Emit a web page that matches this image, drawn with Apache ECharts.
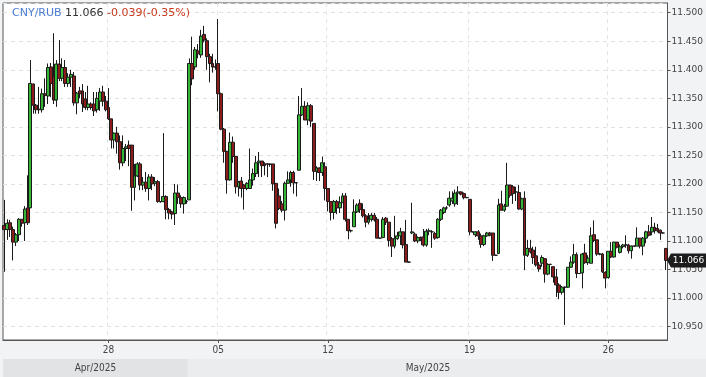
<!DOCTYPE html>
<html>
<head>
<meta charset="utf-8">
<script src="https://cdn.jsdelivr.net/npm/echarts@6/dist/echarts.min.js"></script>
<style>
html, body { margin: 0; padding: 0; background: #f2f3f5; }
#chart { width: 706px; height: 377px; }
</style>
</head>
<body>
<div id="chart"></div>
<script>
// [open, close, low, high] per bar
const candles = [
  [11.127,11.120,11.046,11.172],[11.120,11.131,11.102,11.138],[11.132,11.120,11.107,11.137],[11.120,11.098,11.066,11.125],
  [11.098,11.111,11.091,11.114],[11.111,11.138,11.100,11.140],[11.138,11.131,11.125,11.138],[11.132,11.156,11.100,11.161],
  [11.158,11.132,11.128,11.215],[11.158,11.376,11.158,11.417],[11.375,11.338,11.323,11.376],[11.338,11.330,11.323,11.340],
  [11.331,11.330,11.323,11.370],[11.330,11.358,11.325,11.367],[11.358,11.355,11.335,11.385],
  [11.354,11.404,11.340,11.411],[11.405,11.376,11.352,11.412],[11.388,11.347,11.340,11.464],[11.347,11.410,11.335,11.417],
  [11.410,11.385,11.380,11.452],[11.385,11.404,11.380,11.420],[11.404,11.376,11.370,11.417],[11.376,11.387,11.370,11.394],
  [11.387,11.392,11.370,11.400],[11.389,11.342,11.337,11.396],[11.342,11.359,11.322,11.361],[11.363,11.358,11.350,11.370],
  [11.363,11.340,11.326,11.375],[11.349,11.334,11.330,11.361],[11.334,11.340,11.329,11.372],[11.340,11.334,11.330,11.343],
  [11.340,11.328,11.319,11.361],[11.330,11.350,11.325,11.361],[11.345,11.361,11.328,11.368],[11.361,11.345,11.336,11.372],
  [11.345,11.330,11.327,11.354],[11.334,11.314,11.312,11.368],[11.314,11.277,11.262,11.314],[11.277,11.289,11.262,11.290],
  [11.289,11.274,11.253,11.300],[11.274,11.237,11.225,11.285],[11.237,11.262,11.231,11.285],[11.262,11.265,11.240,11.270],
  [11.268,11.262,11.231,11.276],[11.268,11.194,11.153,11.268],[11.194,11.214,11.171,11.235],[11.214,11.235,11.212,11.238],
  [11.235,11.198,11.189,11.238],[11.198,11.203,11.189,11.212],[11.203,11.192,11.186,11.221],[11.192,11.212,11.171,11.217],
  [11.212,11.200,11.189,11.217],[11.201,11.204,11.196,11.212],[11.204,11.169,11.167,11.207],[11.169,11.169,11.167,11.170],
  [11.169,11.178,11.168,11.289],[11.178,11.155,11.138,11.180],[11.155,11.149,11.138,11.158],[11.151,11.147,11.138,11.153],
  [11.148,11.184,11.128,11.200],[11.184,11.176,11.165,11.199],[11.176,11.165,11.158,11.180],[11.165,11.176,11.148,11.178],
  [11.169,11.169,11.165,11.172],[11.172,11.411,11.172,11.420],[11.411,11.384,11.373,11.458],
  [11.405,11.435,11.400,11.440],[11.433,11.428,11.420,11.445],[11.426,11.459,11.421,11.470],[11.462,11.452,11.448,11.477],
  [11.451,11.423,11.400,11.455],[11.423,11.411,11.378,11.428],[11.411,11.405,11.395,11.428],[11.405,11.405,11.400,11.418],
  [11.411,11.358,11.327,11.489],[11.358,11.296,11.294,11.360],[11.296,11.257,11.237,11.298],[11.257,11.207,11.183,11.258],
  [11.207,11.273,11.206,11.290],[11.273,11.248,11.237,11.283],[11.248,11.195,11.183,11.249],[11.195,11.203,11.178,11.205],
  [11.205,11.192,11.176,11.212],[11.198,11.192,11.155,11.200],[11.192,11.201,11.189,11.203],[11.192,11.207,11.192,11.262],
  [11.207,11.218,11.197,11.227],[11.218,11.237,11.212,11.249],[11.237,11.240,11.212,11.256],[11.240,11.232,11.212,11.240],
  [11.235,11.232,11.215,11.238],[11.235,11.235,11.212,11.236],[11.235,11.234,11.230,11.236],[11.235,11.200,11.188,11.235],
  [11.201,11.131,11.122,11.201],[11.179,11.157,11.154,11.192],[11.165,11.154,11.150,11.170],[11.154,11.201,11.136,11.204],
  [11.201,11.207,11.201,11.222],[11.207,11.220,11.195,11.223],[11.220,11.202,11.183,11.223],[11.202,11.202,11.178,11.203],
  [11.224,11.321,11.224,11.354],[11.321,11.336,11.319,11.368],[11.336,11.312,11.312,11.345],[11.312,11.337,11.303,11.343],
  [11.337,11.310,11.300,11.340],[11.306,11.222,11.207,11.306],[11.222,11.228,11.205,11.231],[11.228,11.220,11.205,11.229],
  [11.220,11.237,11.214,11.248],[11.230,11.192,11.171,11.238],[11.192,11.169,11.152,11.192],[11.169,11.150,11.136,11.169],
  [11.150,11.169,11.138,11.172],[11.169,11.158,11.147,11.172],[11.158,11.167,11.149,11.178],[11.167,11.179,11.167,11.184],
  [11.179,11.138,11.134,11.184],[11.138,11.118,11.103,11.138],[11.118,11.118,11.115,11.120],[11.125,11.151,11.125,11.173],
  [11.151,11.163,11.149,11.166],[11.166,11.155,11.149,11.173],[11.155,11.144,11.141,11.166],[11.144,11.133,11.124,11.147],
  [11.133,11.138,11.129,11.149],[11.138,11.145,11.134,11.149],[11.145,11.137,11.134,11.149],[11.138,11.105,11.105,11.142],
  [11.105,11.105,11.104,11.106],[11.106,11.138,11.105,11.142],[11.140,11.133,11.128,11.142],[11.133,11.101,11.090,11.133],
  [11.104,11.091,11.072,11.107],[11.091,11.104,11.087,11.144],[11.104,11.109,11.102,11.116],[11.109,11.116,11.093,11.123],
  [11.116,11.093,11.087,11.116],[11.094,11.063,11.063,11.137],[11.063,11.063,11.062,11.064],[11.114,11.116,11.112,11.167],
  [11.112,11.100,11.098,11.115],[11.100,11.106,11.096,11.108],[11.106,11.103,11.100,11.108],[11.107,11.093,11.090,11.121],
  [11.093,11.117,11.090,11.121],[11.117,11.118,11.110,11.122],[11.116,11.116,11.088,11.119],[11.113,11.105,11.102,11.116],
  [11.106,11.138,11.104,11.140],[11.138,11.154,11.135,11.156],[11.150,11.158,11.147,11.160],[11.158,11.158,11.155,11.161],
  [11.163,11.175,11.160,11.187],[11.170,11.175,11.165,11.187],[11.165,11.184,11.160,11.190],[11.184,11.186,11.163,11.196],
  [11.186,11.182,11.180,11.187],[11.183,11.176,11.173,11.185],[11.176,11.176,11.175,11.177],[11.173,11.116,11.110,11.173],
  [11.116,11.116,11.115,11.117],[11.111,11.116,11.107,11.117],[11.116,11.109,11.102,11.119],[11.109,11.094,11.088,11.113],
  [11.094,11.109,11.091,11.111],[11.109,11.114,11.107,11.116],[11.114,11.110,11.108,11.116],[11.114,11.075,11.065,11.114],
  [11.075,11.075,11.074,11.076],[11.078,11.163,11.078,11.174],[11.165,11.154,11.154,11.188],[11.154,11.161,11.151,11.165],
  [11.161,11.198,11.160,11.237],[11.198,11.180,11.176,11.198],[11.195,11.183,11.165,11.198],[11.186,11.186,11.170,11.195],
  [11.185,11.156,11.155,11.198],[11.156,11.174,11.154,11.176],[11.175,11.075,11.049,11.187],[11.075,11.087,11.072,11.102],
  [11.087,11.081,11.078,11.102],[11.084,11.071,11.060,11.090],[11.074,11.058,11.055,11.090],[11.058,11.051,11.046,11.063],
  [11.061,11.071,11.055,11.075],[11.069,11.042,11.027,11.070],[11.042,11.059,11.040,11.061],[11.059,11.059,11.058,11.060],
  [11.055,11.037,11.027,11.055],[11.037,11.023,11.002,11.051],[11.023,11.010,10.998,11.026],[11.010,11.019,11.006,11.021],
  [11.019,11.019,10.953,11.020],[11.019,11.054,11.018,11.054],[11.054,11.063,11.053,11.073],[11.063,11.076,11.060,11.095],
  [11.076,11.043,11.035,11.080],[11.043,11.043,11.042,11.044],[11.044,11.077,11.017,11.079],[11.079,11.062,11.060,11.095],
  [11.062,11.070,11.058,11.075],[11.061,11.109,11.061,11.124],[11.111,11.101,11.098,11.136],[11.102,11.077,11.074,11.102],
  [11.077,11.077,11.075,11.079],[11.077,11.046,11.044,11.079],[11.045,11.035,11.017,11.047],[11.036,11.082,11.034,11.082],
  [11.082,11.072,11.070,11.098],[11.072,11.098,11.071,11.098],[11.098,11.089,11.087,11.098],[11.080,11.090,11.078,11.094],
  [11.090,11.093,11.087,11.095],[11.093,11.093,11.088,11.110],[11.093,11.083,11.078,11.095],[11.083,11.091,11.069,11.092],
  [11.091,11.091,11.090,11.092],[11.091,11.105,11.091,11.124],[11.105,11.091,11.087,11.105],[11.091,11.105,11.075,11.107],
  [11.105,11.116,11.096,11.118],[11.116,11.110,11.108,11.128],[11.116,11.124,11.110,11.142],[11.124,11.118,11.113,11.132],
  [11.122,11.118,11.115,11.130],[11.119,11.114,11.102,11.120],[11.114,11.114,11.113,11.115],[11.087,11.066,11.049,11.087]
];

const dayTickIndex = [36, 74, 112, 161, 209];
const dayTickLabels = ['28', '05', '12', '19', '26'];
const monthStartIndex = [0, 64];
const monthLabels = ['Apr/2025', 'May/2025'];
const lastPrice = 11.066;
const change = '-0.039(-0.35%)';
const symbolName = 'CNY/RUB';

const categories = candles.map((c, i) => {
  const k = dayTickIndex.indexOf(i);
  return k >= 0 ? dayTickLabels[k] : '';
});
const isTick = (i) => dayTickIndex.includes(i);

const FONT = 'DejaVu Sans';
const chart = echarts.init(document.getElementById('chart'));

chart.setOption({
  backgroundColor: '#f2f3f5',
  animation: false,
  title: {
    left: 12,
    top: 8,
    padding: 0,
    text: `{a|${symbolName}} {b|${lastPrice.toFixed(3)}} {c|${change}}`,
    textStyle: {
      fontFamily: FONT,
      fontSize: 11,
      fontWeight: 'normal',
      rich: {
        a: { color: '#4a7dd3', fontFamily: FONT, fontSize: 11 },
        b: { color: '#333333', fontFamily: FONT, fontSize: 11 },
        c: { color: '#c73a1d', fontFamily: FONT, fontSize: 11 }
      }
    }
  },
  grid: {
    left: 3,
    right: 38,
    top: 3,
    bottom: 37,
    show: true,
    backgroundColor: '#ffffff',
    borderColor: '#555555',
    borderWidth: 1
  },
  xAxis: {
    type: 'category',
    data: categories,
    boundaryGap: true,
    axisLine: { lineStyle: { color: '#555555' } },
    axisTick: {
      show: true,
      alignWithLabel: true,
      length: 3,
      interval: (i) => isTick(i),
      lineStyle: { color: '#555555' }
    },
    axisLabel: {
      interval: (i) => isTick(i),
      color: '#444444',
      fontFamily: 'DejaVu Sans Condensed, DejaVu Sans',
      fontSize: 10,
      margin: 5
    },
    splitLine: {
      show: true,
      interval: (i) => isTick(i),
      lineStyle: { color: '#e3e3e3', type: [4, 4] }
    }
  },
  yAxis: {
    type: 'value',
    position: 'right',
    scale: true,
    min: 10.9265,
    max: 11.517,
    splitNumber: 12,
    axisLine: { show: true, lineStyle: { color: '#555555' } },
    axisTick: { show: true, length: 3, lineStyle: { color: '#555555' } },
    axisLabel: {
      color: '#444444',
      fontFamily: FONT,
      fontSize: 9,
      margin: 4,
      showMinLabel: false,
      showMaxLabel: false,
      formatter: (v) => v.toFixed(3)
    },
    splitLine: { show: true, lineStyle: { color: '#e3e3e3', type: [4, 4] } }
  },
  series: [{
    type: 'candlestick',
    data: candles,
    barWidth: 3.4,
    itemStyle: {
      color: '#35b535',
      color0: '#8e1b1b',
      borderColor: '#1b1b1b',
      borderColor0: '#1b1b1b',
      borderWidth: 1
    },
    markPoint: {
      silent: true,
      symbol: 'path://M0,7 L4,0 L40,0 L40,14 L4,14 Z',
      symbolSize: [39, 14],
      symbolKeepAspect: false,
      symbolOffset: [20.5, 0],
      itemStyle: { color: '#1c1c1c' },
      label: {
        show: true,
        color: '#ffffff',
        fontFamily: FONT,
        fontSize: 9,
        offset: [2, 0],
        formatter: () => lastPrice.toFixed(3)
      },
      data: [{ coord: [candles.length - 1, lastPrice] }]
    }
  }]
});

// month strip under the axis, placed from the category scale
const bandW = chart.convertToPixel({ xAxisIndex: 0 }, 1) - chart.convertToPixel({ xAxisIndex: 0 }, 0);
const plotLeft = 3, plotRight = 668, width = 706;
const edges = monthStartIndex.map((i) => i === 0 ? plotLeft : chart.convertToPixel({ xAxisIndex: 0 }, i) - bandW / 2);
edges.push(width);
const graphics = [];
monthLabels.forEach((lab, k) => {
  const x0 = edges[k], x1 = edges[k + 1];
  graphics.push({
    type: 'rect',
    shape: { x: x0, y: 359, width: x1 - x0, height: 18 },
    style: { fill: k === 0 ? '#e2e3e5' : '#ebecee' },
    silent: true
  });
  graphics.push({
    type: 'text',
    x: (x0 + Math.min(x1, plotRight)) / 2,
    y: 368,
    style: {
      text: lab,
      fill: '#444444',
      font: '10px "DejaVu Sans Condensed", "DejaVu Sans"',
      align: 'center',
      verticalAlign: 'middle'
    },
    silent: true
  });
});
chart.setOption({ graphic: graphics });
</script>
</body>
</html>
